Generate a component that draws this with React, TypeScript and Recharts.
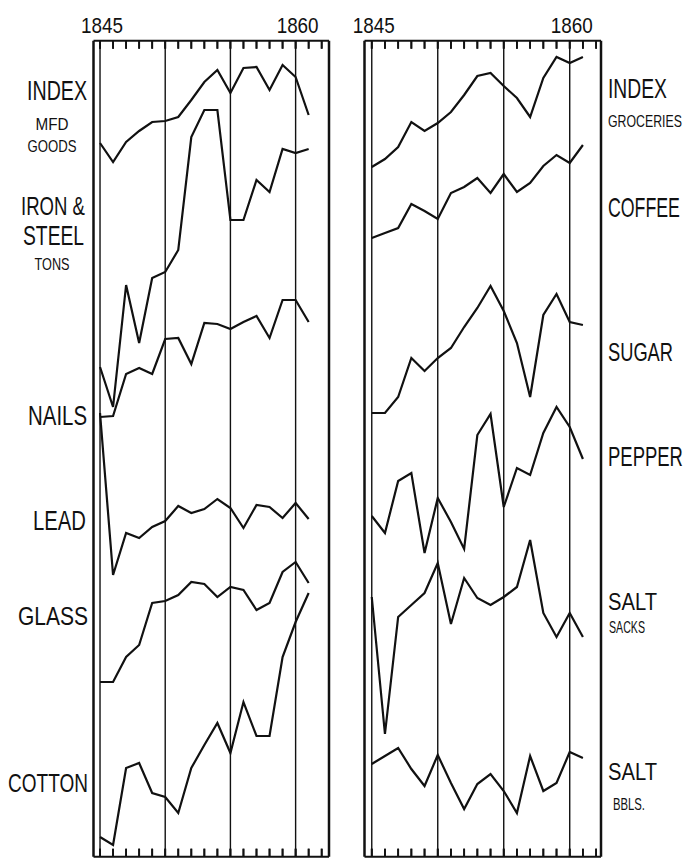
import { useLayoutEffect, useRef, useState } from "react";
import { LineChart, Line, XAxis, YAxis, ReferenceLine } from "recharts";

// years shown on both panels
const YEARS = [1845, 1846, 1847, 1848, 1849, 1850, 1851, 1852, 1853, 1854, 1855, 1856, 1857, 1858, 1859, 1860, 1861];
const TICK_YEARS = [1845, 1846, 1847, 1848, 1849, 1850, 1851, 1852, 1853, 1854, 1855, 1856, 1857, 1858, 1859, 1860, 1861, 1862];
const LABELED_YEARS = [1845, 1860];
const GRID_YEARS = [1845, 1850, 1855, 1860];

// relative levels (no scale on the original)
const mfdGoods = [19, 0, 20, 31, 40, 41, 45, 62, 80, 92, 69, 94, 95, 72, 97, 85, 47];
const ironSteel = [40, 0, 122, 64, 129, 135, 157, 270, 297, 297, 187, 187, 227, 215, 258, 254, 258];
const nails = [0, 1, 43, 49, 43, 78, 79, 53, 94, 93, 88, 95, 101, 79, 117, 117, 95];
const lead = [162, 0, 42, 37, 48, 54, 69, 62, 66, 76, 67, 47, 70, 68, 57, 72, 56];
const glass = [0, 0, 25, 37, 79, 81, 87, 100, 98, 85, 95, 92, 72, 79, 110, 120, 99];
const cotton = [8, 0, 77, 82, 52, 48, 32, 77, 100, 122, 92, 143, 109, 109, 188, 223, 252];

const groceries = [0, 8, 20, 45, 36, 44, 55, 72, 91, 94, 81, 69, 50, 89, 110, 104, 110];
const coffee = [0, 5, 10, 34, 27, 19, 45, 51, 60, 45, 64, 46, 55, 72, 83, 75, 93];
const sugar = [0, 0, 16, 55, 42, 55, 65, 86, 105, 127, 102, 70, 16, 98, 119, 91, 88];
const pepper = [37, 20, 72, 80, 0, 55, 31, 4, 118, 139, 46, 85, 78, 120, 146, 126, 94];
const saltSacks = [137, 0, 117, 129, 141, 171, 110, 156, 136, 129, 137, 147, 194, 121, 97, 121, 97];
const saltBbls = [49, 57, 65, 44, 27, 58, 30, 4, 29, 39, 22, 0, 57, 22, 30, 61, 55];

const LEFT_SERIES = [
  { key: "mfd", values: mfdGoods },
  { key: "iron", values: ironSteel },
  { key: "nails", values: nails },
  { key: "lead", values: lead },
  { key: "glass", values: glass },
  { key: "cotton", values: cotton },
];
const RIGHT_SERIES = [
  { key: "groceries", values: groceries },
  { key: "coffee", values: coffee },
  { key: "sugar", values: sugar },
  { key: "pepper", values: pepper },
  { key: "saltSacks", values: saltSacks },
  { key: "saltBbls", values: saltBbls },
];

// layout
const H = 860;
const PLOT_TOP = 40.7;
const PLOT_BOTTOM = 856.7;
const TICK_LEN = 8;
// pixel row where each series' zero level sits
const BASE: Record<string, number> = {
  mfd: 162, iron: 407, nails: 417, lead: 575, glass: 682, cotton: 845,
  groceries: 167, coffee: 238, sugar: 413, pepper: 553, saltSacks: 734, saltBbls: 813,
};

const FONT = "'Liberation Sans', Arial, sans-serif";
const INK = "#111";

const LABELS = [
  { text: "INDEX", x: 87, y: 100, size: 27, w: 60, anchor: "end" },
  { text: "MFD", x: 52, y: 130, size: 16, w: 33, anchor: "middle" },
  { text: "GOODS", x: 52, y: 152, size: 16, w: 49, anchor: "middle" },
  { text: "IRON &", x: 85, y: 215, size: 25, w: 64, anchor: "end" },
  { text: "STEEL", x: 84, y: 245, size: 27, w: 61, anchor: "end" },
  { text: "TONS", x: 52, y: 270, size: 16, w: 35, anchor: "middle" },
  { text: "NAILS", x: 87, y: 425, size: 27, w: 59, anchor: "end" },
  { text: "LEAD", x: 86, y: 530, size: 27, w: 53, anchor: "end" },
  { text: "GLASS", x: 88, y: 625, size: 26, w: 70, anchor: "end" },
  { text: "COTTON", x: 88, y: 792, size: 26, w: 80, anchor: "end" },
  { text: "INDEX", x: 608, y: 98, size: 27, w: 59, anchor: "start" },
  { text: "GROCERIES", x: 608, y: 127, size: 16, w: 74, anchor: "start" },
  { text: "COFFEE", x: 608, y: 217, size: 27, w: 72, anchor: "start" },
  { text: "SUGAR", x: 608, y: 361, size: 26, w: 65, anchor: "start" },
  { text: "PEPPER", x: 608, y: 466, size: 27, w: 75, anchor: "start" },
  { text: "SALT", x: 608, y: 610, size: 24, w: 49, anchor: "start" },
  { text: "SACKS", x: 609, y: 633, size: 16, w: 36, anchor: "start" },
  { text: "SALT", x: 608, y: 780, size: 24, w: 49, anchor: "start" },
  { text: "BBLS.", x: 613, y: 810, size: 16, w: 32, anchor: "start" },
];

function buildRows(series: { key: string; values: number[] }[]) {
  return YEARS.map((year, i) => {
    const row: Record<string, number> = { year };
    series.forEach((s) => (row[s.key] = s.values[i]));
    return row;
  });
}

// narrow lettering: squeeze the text horizontally to the width seen in the reference
function NarrowText({ x, y, size, w, anchor, children }: any) {
  const ref = useRef<SVGTextElement>(null);
  const [sx, setSx] = useState(1);
  useLayoutEffect(() => {
    const n = ref.current ? ref.current.getComputedTextLength() : 0;
    if (n > 0) setSx(w / n);
  }, [w]);
  return (
    <text
      ref={ref}
      transform={`translate(${x},${y}) scale(${sx},1)`}
      fontSize={size}
      textAnchor={anchor}
      fontFamily={FONT}
      fill={INK}
    >
      {children}
    </text>
  );
}

// top axis tick: short inward mark, year label above the frame for 1845 and 1860
function TopTick(props: any) {
  const { x, payload } = props;
  return (
    <g>
      <path d={`M${x},${PLOT_TOP}V${PLOT_TOP + TICK_LEN}`} stroke={INK} strokeWidth={1.8} fill="none" />
      {LABELED_YEARS.includes(payload.value) && (
        <NarrowText x={x + 2} y={PLOT_TOP - 8} size={23} w={42} anchor="middle">
          {payload.value}
        </NarrowText>
      )}
    </g>
  );
}

function BottomTick(props: any) {
  const { x } = props;
  return <path d={`M${x},${PLOT_BOTTOM}V${PLOT_BOTTOM - TICK_LEN}`} stroke={INK} strokeWidth={1.8} fill="none" />;
}

function Panel({ series, left, width, margin, domain }: any) {
  const data = buildRows(series);
  const refAxis = series[0].key;
  const vTop = BASE[refAxis] - PLOT_TOP;
  const vBottom = BASE[refAxis] - PLOT_BOTTOM;
  return (
    <div style={{ position: "absolute", left, top: 0 }}>
      <LineChart width={width} height={H} data={data} margin={margin}>
        {series.map((s: any) => (
          <YAxis
            key={s.key}
            yAxisId={s.key}
            hide
            allowDataOverflow
            domain={[BASE[s.key] - PLOT_BOTTOM, BASE[s.key] - PLOT_TOP]}
          />
        ))}
        <ReferenceLine xAxisId="top" yAxisId={refAxis} x={domain[0]} stroke={INK} strokeWidth={2.5} ifOverflow="visible" />
        <ReferenceLine xAxisId="top" yAxisId={refAxis} x={domain[1]} stroke={INK} strokeWidth={2.5} ifOverflow="visible" />
        {GRID_YEARS.map((yr) => (
          <ReferenceLine key={yr} xAxisId="top" yAxisId={refAxis} x={yr} stroke={INK} strokeWidth={1.4} ifOverflow="visible" />
        ))}
        {TICK_YEARS.map((yr) => (
          <ReferenceLine
            key={`t${yr}`}
            xAxisId="top"
            yAxisId={refAxis}
            segment={[{ x: yr, y: vTop }, { x: yr, y: vTop - TICK_LEN }]}
            stroke={INK}
            strokeWidth={1.8}
            ifOverflow="visible"
          />
        ))}
        {TICK_YEARS.map((yr) => (
          <ReferenceLine
            key={`b${yr}`}
            xAxisId="top"
            yAxisId={refAxis}
            segment={[{ x: yr, y: vBottom }, { x: yr, y: vBottom + TICK_LEN }]}
            stroke={INK}
            strokeWidth={1.8}
            ifOverflow="visible"
          />
        ))}
        {series.map((s: any) => (
          <Line
            key={s.key}
            xAxisId="top"
            yAxisId={s.key}
            dataKey={s.key}
            type="linear"
            stroke={INK}
            strokeWidth={2.2}
            dot={false}
            isAnimationActive={false}
          />
        ))}
        <XAxis
          xAxisId="top"
          orientation="top"
          dataKey="year"
          type="number"
          domain={domain}
          allowDataOverflow
          ticks={TICK_YEARS}
          interval={0}
          minTickGap={0}
          mirror
          tick={<TopTick />}
          tickLine={false}
          axisLine={{ stroke: INK, strokeWidth: 2 }}
        />
        <XAxis
          xAxisId="bottom"
          orientation="bottom"
          dataKey="year"
          type="number"
          domain={domain}
          allowDataOverflow
          ticks={TICK_YEARS}
          interval={0}
          minTickGap={0}
          mirror
          tick={<BottomTick />}
          tickLine={false}
          axisLine={{ stroke: INK, strokeWidth: 2 }}
        />
      </LineChart>
    </div>
  );
}

export default function App() {
  return (
    <div style={{ position: "absolute", left: 0, top: 0, width: 684, height: H, background: "#fff" }}>
      <Panel
        series={LEFT_SERIES}
        left={0}
        width={342}
        margin={{ top: PLOT_TOP, bottom: H - PLOT_BOTTOM, left: 93.5, right: 13 }}
        domain={[1844.5, 1862.56]}
      />
      <Panel
        series={RIGHT_SERIES}
        left={342}
        width={342}
        margin={{ top: PLOT_TOP, bottom: H - PLOT_BOTTOM, left: 22.5, right: 83 }}
        domain={[1844.45, 1862.37]}
      />
      <svg width={684} height={H} style={{ position: "absolute", left: 0, top: 0, pointerEvents: "none" }}>
        {LABELS.map((l, i) => (
          <NarrowText key={i} x={l.x} y={l.y} size={l.size} w={l.w} anchor={l.anchor}>
            {l.text}
          </NarrowText>
        ))}
      </svg>
    </div>
  );
}
